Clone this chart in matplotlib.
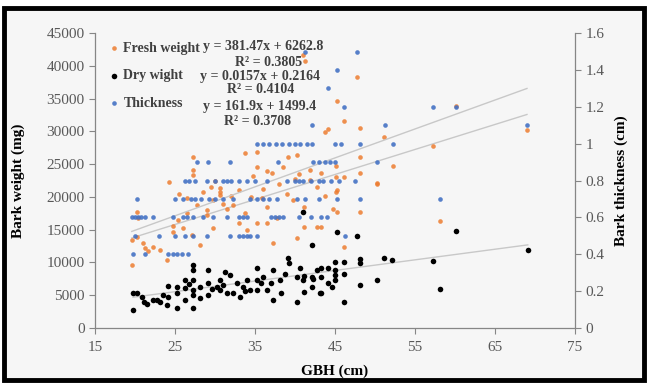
import matplotlib.pyplot as plt
from matplotlib.patches import Rectangle
from matplotlib.ticker import FuncFormatter, MultipleLocator

plt.rcParams["font.family"] = ["Liberation Serif", "DejaVu Serif"]

# fresh weight (mg) vs GBH (cm), left axis
fresh_gbh = [19.6, 19.6, 20.2, 20.2, 20.4, 21.0, 21.3, 21.6, 22.3, 23.1, 24.0, 24.25,
             24.8, 24.8, 25.4, 26.0, 26.5, 27.1, 27.2, 27.2, 27.2, 27.75, 28.1, 29.0,
             29.0, 29.75, 29.75, 30.6, 30.6, 31.5, 32.25, 33.0, 33.75, 34.0, 33.75, 35.2,
             35.2, 35.2, 35.9, 36.5, 36.5, 37.1, 37.3, 37.7, 39.1, 39.75, 40.2, 40.25,
             41.25, 41.0, 41.1, 41.1, 41.9, 41.9, 42.75, 42.75, 43.2, 43.3, 43.75, 43.75,
             44.1, 44.8, 45.1, 45.1, 45.1, 45.2, 45.2, 45.2, 46.1, 46.1, 46.1, 47.7,
             48.1, 48.1, 48.1, 48.1, 50.25, 50.25, 51.1, 52.25, 57.25, 58.1, 60.1, 69.0,
             28.5, 29.5, 30.0, 31.0, 32.0, 33.0, 34.5, 36.0, 38.0, 39.0, 40.0, 26.5,
             25.5, 36.5, 34.8, 38.5, 40.5, 30.6]
fresh_mg = [9600, 13420, 13880, 17690, 16800, 12960, 12200, 11700, 12360, 11900, 10370, 22270,
            14640, 15560, 16470, 15250, 17540, 14180, 26080, 24100, 23340, 18760, 12660, 17240,
            18000, 19520, 15250, 21350, 20290, 18150, 18760, 16010, 17540, 14950, 26700, 26850,
            24560, 16010, 19830, 16010, 18460, 23640, 12960, 16780, 26080, 19520, 13730, 26400,
            40700, 41640, 18460, 15400, 24100, 22580, 21500, 15400, 15400, 23640, 20130, 29900,
            30330, 18150, 24710, 23030, 20750, 17690, 21050, 34630, 31580, 23030, 12360, 38280,
            30480, 26080, 23640, 17690, 22120, 21960, 29140, 24710, 27760, 16320, 33860, 30200,
            20800, 21500, 22500, 19000, 20200, 21000, 20000, 21200, 22000, 20500, 22800, 19800,
            20500, 24000, 23200, 24600, 23500, 20750]

# dry weight (mg) vs GBH (cm), left axis
dry_gbh = [19.75, 19.75, 20.25, 20.9, 21.1, 21.5, 22.25, 23.1, 24.0, 24.1, 24.1, 25.25,
           25.25, 25.25, 26.25, 26.25, 26.25, 27.25, 27.25, 27.25, 27.25, 27.25, 27.25, 28.1,
           28.1, 29.1, 29.1, 29.1, 30.2, 30.6, 30.6, 31.2, 31.5, 31.9, 32.25, 32.7, 33.1,
           33.5, 34.0, 34.4, 35.2, 35.2, 35.3, 36.0, 36.5, 37.0, 37.3, 37.3, 38.1, 38.3,
           39.1, 39.3, 40.2, 40.2, 40.6, 41.0, 42.1, 42.1, 42.75, 43.1, 44.1, 42.1, 41.0,
           45.2, 47.7, 60.1, 69.1, 51.1, 52.1, 57.25, 48.1, 48.1, 46.1, 46.1, 45.0, 45.0,
           45.0, 45.0, 43.25, 43.25, 43.25, 44.1, 44.6, 50.25, 48.1, 46.1, 58.1, 41.1, 41.1,
           42.25, 26.8, 29.6, 31.0, 33.8, 35.8, 38.8, 23.5, 22.8]
dry_mg = [2750, 5340, 5340, 4730, 3970, 3660, 4270, 3970, 3510, 4730, 6410, 3050,
          6250, 5340, 4270, 6100, 7320, 9610, 8850, 7320, 5800, 5030, 3050, 6250,
          4580, 8850, 6860, 5030, 6250, 7320, 5800, 8540, 5340, 8080, 5340, 6860, 4730,
          6250, 7320, 5800, 9150, 7320, 5800, 7780, 5800, 6860, 8850, 4270, 7320, 5340,
          10680, 9910, 3970, 7780, 9150, 7320, 7780, 6250, 8850, 5340, 6860, 12660, 17690,
          14640, 14030, 14800, 11900, 10680, 10370, 10220, 10520, 9910, 10070, 8240, 10070, 8850,
          8080, 7320, 9150, 7780, 5340, 9150, 6250, 7320, 6560, 3970, 5950, 7930, 5490,
          7470, 6700, 5900, 6500, 5600, 6900, 8200, 5000, 4200]

# bark thickness (cm) vs GBH (cm), right axis
thick_gbh = [19.8, 21.3, 24.1, 24.7, 25.3, 25.9, 26.6,
             20.0, 23.0, 25.0, 26.2, 27.3, 29.0, 31.9, 33.0, 33.5, 34.0, 34.4, 35.2, 46.2,
             19.6, 20.0, 20.4, 20.8, 21.2, 22.3, 24.8, 26.0, 26.5, 27.3, 28.5, 29.8, 31.5,
             33.0, 33.5, 34.0, 37.0, 37.5, 38.0, 38.5, 40.5, 42.0, 43.2, 44.0,
             20.2, 25.0, 26.0, 27.0, 27.5, 28.3, 29.2, 30.0, 31.0, 32.2, 34.4, 35.2, 36.0,
             36.8, 37.7, 40.2, 41.2, 43.0, 45.2, 48.1, 58.1,
             26.2, 26.8, 27.5, 29.0, 30.0, 31.0, 31.5, 32.0, 33.0, 34.0, 35.0, 36.5, 39.0,
             40.0, 40.5, 41.0, 42.0, 43.0, 43.5, 44.5, 45.5, 47.5,
             27.8, 29.1, 31.9, 37.9, 42.3, 43.0, 43.7, 44.4, 45.0, 50.2,
             35.2, 36.0, 36.8, 37.6, 38.4, 39.2, 40.0, 40.6, 41.5, 42.1, 45.0, 45.8, 48.1, 52.3,
             42.1, 51.2, 69.0, 46.1, 57.2, 60.1, 44.1, 45.2, 41.2, 47.7]
thick_cm = [0.4] * 7 + [0.5] * 13 + [0.6] * 24 + [0.7] * 21 + [0.8] * 22 + [0.9] * 10 \
    + [1.0] * 14 + [1.1, 1.1, 1.1, 1.2, 1.2, 1.2, 1.3, 1.4, 1.5, 1.5]

# trend line equations as printed on the chart (slope, intercept)
fresh_fit = (381.47, 6262.8)
thick_fit = (0.0157, 0.2164)
dry_fit = (161.9, 1499.4)
x_ticks = [15, 25, 35, 45, 55, 65, 75]
legend_labels = ["Fresh weight", "Dry wight", "Thickness"]
eq_texts = ["y = 381.47x + 6262.8", "R\u00b2 = 0.3805",
            "y = 0.0157x + 0.2164", "R\u00b2 = 0.4104",
            "y = 161.9x + 1499.4", "R\u00b2 = 0.3708"]

ORANGE = "#ED7D31"
BLUE = "#4472C4"
GREY = "#595959"
LINE = "#c8c8c8"
BG = "#f6f6f6"

fig = plt.figure(figsize=(6.48, 3.85), dpi=100, facecolor="white")
fig.patches.append(Rectangle((0.006, 0.012), 0.988, 0.968, transform=fig.transFigure,
                             facecolor=BG, edgecolor="black", linewidth=3.5, zorder=-10))

ax = fig.add_axes([0.1466, 0.148, 0.7407, 0.766])
ax.set_facecolor("none")
ax2 = ax.twinx()
ax2.set_facecolor("none")

h_fresh = ax.scatter(fresh_gbh, fresh_mg, s=11, color=ORANGE, alpha=0.85,
                     linewidths=0, zorder=3)
h_dry = ax.scatter(dry_gbh, dry_mg, s=16, color="black", linewidths=0, zorder=3)
h_thick = ax2.scatter(thick_gbh, thick_cm, s=11, color=BLUE, alpha=0.9,
                      linewidths=0, zorder=3)

for xs, fit, axis in [(fresh_gbh, fresh_fit, ax), (dry_gbh, dry_fit, ax),
                      (thick_gbh, thick_fit, ax2)]:
    x0, x1 = min(xs), max(xs)
    axis.plot([x0, x1], [fit[0] * x0 + fit[1], fit[0] * x1 + fit[1]],
              color=LINE, lw=1, zorder=2)

ax.set_xlim(15, 75)
ax.set_ylim(0, 45000)
ax2.set_ylim(0, 1.6)
ax.set_xticks(x_ticks)
ax.yaxis.set_major_locator(MultipleLocator(5000))
ax2.yaxis.set_major_locator(MultipleLocator(0.2))
ax2.yaxis.set_major_formatter(FuncFormatter(lambda v, p: f"{v:g}"))

for a in (ax, ax2):
    for s in a.spines.values():
        s.set_visible(False)
    a.tick_params(colors="#868686", labelcolor=GREY, labelsize=11, length=4, width=0.8)
ax.tick_params(axis="x", pad=5)
ax.spines["left"].set_visible(True)
ax.spines["bottom"].set_visible(True)
ax2.spines["right"].set_visible(True)
for s in (ax.spines["left"], ax.spines["bottom"], ax2.spines["right"]):
    s.set_color("#868686")
    s.set_linewidth(0.9)

ax.set_xlabel("GBH (cm)", fontsize=11, fontweight="bold", color="black")
ax.set_ylabel("Bark weight (mg)", fontsize=11, fontweight="bold", color="black")
ax2.set_ylabel("Bark thickness (cm)", fontsize=11, fontweight="bold", color="black",
               rotation=90)
ax.xaxis.set_label_coords(0.5, -0.125)
ax.yaxis.set_label_coords(-0.145, 0.5)
ax2.yaxis.set_label_coords(1.083, 0.5)

leg = ax2.legend([h_fresh, h_dry, h_thick], legend_labels, loc="upper left",
                 bbox_to_anchor=(0.02, 0.99), frameon=False, handlelength=0.6,
                 handletextpad=0.35, labelspacing=1.05, borderaxespad=0,
                 prop={"weight": "bold", "size": 10}, labelcolor="#404040",
                 scatterpoints=1)

eq_pos = [(0.225, 0.953, "left"), (0.362, 0.902, "center"),
          (0.219, 0.854, "left"), (0.346, 0.810, "center"),
          (0.225, 0.752, "left"), (0.339, 0.699, "center")]
for (x, y, ha), t in zip(eq_pos, eq_texts):
    ax2.text(x, y, t, transform=ax2.transAxes, ha=ha, va="center", fontsize=10,
             fontweight="bold", color="#404040", zorder=5)

fig.savefig("out.png", dpi=100, facecolor=fig.get_facecolor())
